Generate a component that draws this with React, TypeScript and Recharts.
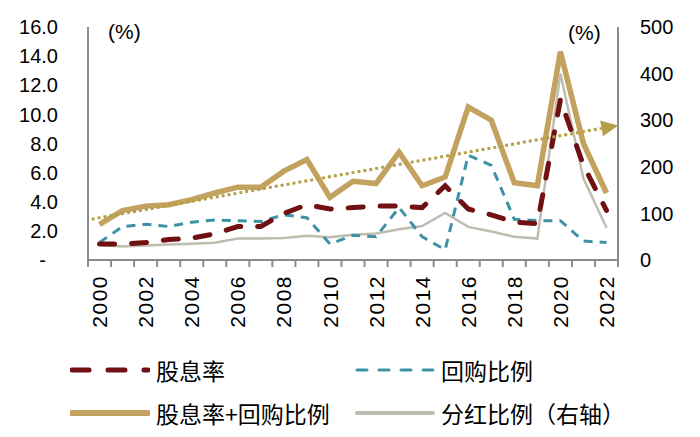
import React from "react"
import { LineChart, Line, XAxis, YAxis, ReferenceLine } from "recharts"

// categories
const years = [
  "2000", "2001", "2002", "2003", "2004", "2005", "2006", "2007", "2008", "2009", "2010", "2011",
  "2012", "2013", "2014", "2015", "2016", "2017", "2018", "2019", "2020", "2021", "2022",
]

// 股息率 (%)
const dividendYield = [1.1, 1.1, 1.2, 1.4, 1.5, 1.8, 2.3, 2.3, 3.2, 3.8, 3.5, 3.6, 3.7, 3.7, 3.6, 5.1, 3.5, 3.1, 2.6, 2.5, 11.0, 6.5, 3.4]
// 回购比例 (%)
const buybackRatio = [1.2, 2.3, 2.45, 2.3, 2.6, 2.75, 2.7, 2.65, 3.1, 2.9, 1.1, 1.7, 1.6, 3.6, 1.6, 0.7, 7.2, 6.5, 2.8, 2.7, 2.7, 1.3, 1.2]
// 股息率+回购比例 (%)
const totalYield = [2.45, 3.4, 3.7, 3.8, 4.15, 4.6, 5.0, 5.0, 6.1, 6.9, 4.3, 5.4, 5.25, 7.4, 5.1, 5.7, 10.5, 9.6, 5.3, 5.1, 14.3, 8.0, 4.6]
// 分红比例 (右轴, %)
const payoutRatio = [32, 29, 31, 33, 35, 37, 46, 46, 47, 52, 49, 54, 57, 66, 73, 101, 71, 61, 50, 46, 400, 175, 69]

// trend arrow end values (left axis)
const trendStart = 2.9
const trendEnd = 9.1

const leftTicks = [0, 2, 4, 6, 8, 10, 12, 14, 16]
const rightTicks = [0, 100, 200, 300, 400, 500]

const data = years.map((year, i) => ({
  year,
  dividend: dividendYield[i],
  buyback: buybackRatio[i],
  total: totalYield[i],
  payout: payoutRatio[i],
}))

const GOLD = "#c3a15e"
const RED = "#711013"
const TEAL = "#3f92a6"
const GRAY = "#bfbdb0"
const TREND = "#b5a04a"
const AXIS = "#8c8c8c"
const NUM_FONT = "'Liberation Sans', Arial, sans-serif"
const CJK_FONT = "'Noto Sans CJK SC', sans-serif"

const PLOT_W = 530
const BAND = PLOT_W / years.length

const LeftTick = (props: any) => {
  const { x, y, payload } = props
  const v = payload.value
  return (
    <text x={v === 0 ? x - 12 : x} y={y} dy="0.36em" textAnchor="end" fontSize={20} fontFamily={NUM_FONT} fill="#000">
      {v === 0 ? "-" : v.toFixed(1)}
    </text>
  )
}

const RightTick = (props: any) => {
  const { x, y, payload } = props
  return (
    <text x={x} y={y} dy="0.36em" textAnchor="start" fontSize={20} fontFamily={NUM_FONT} fill="#000">
      {payload.value}
    </text>
  )
}

const YearTick = (props: any) => {
  const { x, y, payload, index } = props
  const left = x - BAND / 2
  const last = index === years.length - 1
  return (
    <g>
      <line x1={left} y1={y} x2={left} y2={y + 7} stroke={AXIS} strokeWidth={2} />
      {last && <line x1={x + BAND / 2} y1={y} x2={x + BAND / 2} y2={y + 7} stroke={AXIS} strokeWidth={2} />}
      {index % 2 === 0 && (
        <text
          x={x}
          y={y + 15}
          dy="0.36em"
          textAnchor="end"
          transform={`rotate(-90, ${x}, ${y + 15})`}
          fontSize={21}
          letterSpacing={1.5}
          fontFamily={NUM_FONT}
          fill="#000"
        >
          {payload.value}
        </text>
      )}
    </g>
  )
}

const TrendArrow = (props: any) => {
  const { x1, y1, x2, y2 } = props
  if ([x1, y1, x2, y2].some((v) => typeof v !== "number" || isNaN(v))) return null
  const dx = x2 - x1
  const dy = y2 - y1
  const len = Math.hypot(dx, dy)
  const ux = dx / len
  const uy = dy / len
  const sx = x1 - ux * 8
  const sy = y1 - uy * 8
  const tx = x2 + ux * 12
  const ty = y2 + uy * 12
  const bx = tx - ux * 17
  const by = ty - uy * 17
  const px = -uy * 8
  const py = ux * 8
  return (
    <g>
      <line x1={sx} y1={sy} x2={bx} y2={by} stroke={TREND} strokeWidth={3} strokeDasharray="3 3" />
      <polygon points={`${tx},${ty} ${bx + px},${by + py} ${bx - px},${by - py}`} fill={TREND} />
    </g>
  )
}

const LegendSample = ({ color, width, dash, cap }: { color: string; width: number; dash?: string; cap?: "round" | "butt" }) => (
  <svg width={80} height={10} style={{ display: "block" }}>
    <line x1={2} y1={5} x2={78} y2={5} stroke={color} strokeWidth={width} strokeDasharray={dash} strokeLinecap={cap || "round"} />
  </svg>
)

const legendItems = [
  { label: "股息率", color: RED, width: 5, dash: "17 19", left: 70, top: 370 },
  { label: "回购比例", color: TEAL, width: 3, dash: "10 12", left: 355, top: 370 },
  { label: "股息率+回购比例", color: GOLD, width: 6, dash: undefined, left: 70, top: 413 },
  { label: "分红比例（右轴）", color: GRAY, width: 4, dash: undefined, left: 355, top: 413 },
]

export default function App() {
  return (
    <div style={{ position: "absolute", left: 0, top: 0, width: 700, height: 437, background: "#fff" }}>
      <LineChart width={700} height={437} data={data} margin={{ top: 27, right: 22, left: 0, bottom: 97 }}>
        <XAxis
          dataKey="year"
          scale="band"
          interval={0}
          height={80}
          tickLine={false}
          tickSize={0}
          tickMargin={0}
          axisLine={{ stroke: AXIS, strokeWidth: 2 }}
          tick={<YearTick />}
        />
        <YAxis
          yAxisId="left"
          orientation="left"
          width={88}
          domain={[0, 16]}
          ticks={leftTicks}
          interval={0}
          tickLine={false}
          tickSize={0}
          tickMargin={30}
          axisLine={{ stroke: AXIS, strokeWidth: 2 }}
          tick={<LeftTick />}
        />
        <YAxis
          yAxisId="right"
          orientation="right"
          width={60}
          domain={[0, 500]}
          ticks={rightTicks}
          interval={0}
          tickLine={false}
          tickSize={0}
          tickMargin={22}
          axisLine={{ stroke: AXIS, strokeWidth: 2 }}
          tick={<RightTick />}
        />
        <Line yAxisId="left" dataKey="total" stroke={GOLD} strokeWidth={5.5} dot={false} isAnimationActive={false} strokeLinejoin="miter" />
        <Line yAxisId="right" dataKey="payout" stroke={GRAY} strokeWidth={2.5} dot={false} isAnimationActive={false} />
        <Line yAxisId="left" dataKey="buyback" stroke={TEAL} strokeWidth={3} strokeDasharray="9 7" dot={false} isAnimationActive={false} />
        <Line yAxisId="left" dataKey="dividend" stroke={RED} strokeWidth={5} strokeDasharray="15 17" strokeLinecap="round" dot={false} isAnimationActive={false} />
        <ReferenceLine
          yAxisId="left"
          segment={[{ x: years[0], y: trendStart }, { x: years[years.length - 1], y: trendEnd }]}
          shape={TrendArrow}
          ifOverflow="visible"
        />
      </LineChart>

      <div style={{ position: "absolute", left: 108, top: 19, fontFamily: NUM_FONT, fontSize: 21, lineHeight: "26px" }}>(%)</div>
      <div style={{ position: "absolute", left: 568, top: 20, fontFamily: NUM_FONT, fontSize: 21, lineHeight: "26px" }}>(%)</div>

      {legendItems.map((it) => (
        <div key={it.label} style={{ position: "absolute", left: it.left, top: it.top - 15, height: 30, display: "flex", alignItems: "center" }}>
          <LegendSample color={it.color} width={it.width} dash={it.dash} />
          <span style={{ marginLeft: 6, fontFamily: CJK_FONT, fontSize: 23, color: "#000", whiteSpace: "nowrap" }}>{it.label}</span>
        </div>
      ))}
    </div>
  )
}
